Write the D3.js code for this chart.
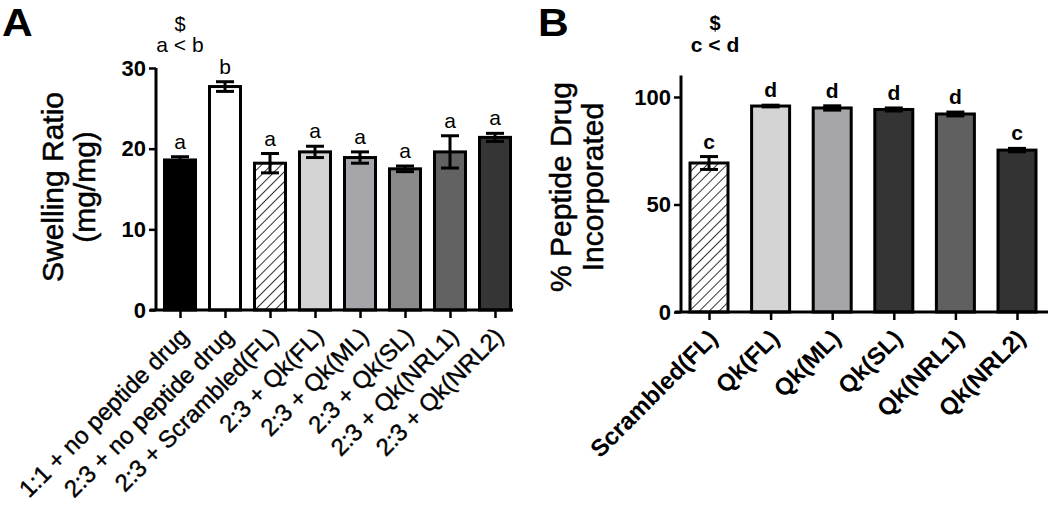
<!DOCTYPE html>
<html><head><meta charset="utf-8">
<script src="https://cdn.jsdelivr.net/npm/d3@7"></script>
<style>
body{margin:0;background:#fff;}
text{font-family:"Liberation Sans",Arial,sans-serif;fill:#000;}
</style></head>
<body>
<svg id="chart" width="1050" height="506"></svg>
<script>
// ---- Panel A data ----
const catsA = ["1:1 + no peptide drug","2:3 + no peptide drug","2:3 + Scrambled(FL)","2:3 + Qk(FL)","2:3 + Qk(ML)","2:3 + Qk(SL)","2:3 + Qk(NRL1)","2:3 + Qk(NRL2)"];
const meansA = [18.6, 27.7, 18.2, 19.6, 18.9, 17.5, 19.6, 21.4];
const errsA = [0.4, 0.6, 1.2, 0.7, 0.7, 0.35, 2.0, 0.5];
const lettersA = ["a","b","a","a","a","a","a","a"];
const fillsA = ["#000000","#ffffff","hatch","#d4d4d4","#a6a6aa","#8a8a8a","#626262","#353535"];
const ticksA = [0,10,20,30];
// ---- Panel B data ----
const catsB = ["Scrambled(FL)","Qk(FL)","Qk(ML)","Qk(SL)","Qk(NRL1)","Qk(NRL2)"];
const meansB = [69.3, 95.8, 94.9, 94.2, 92.1, 75.3];
const errsB = [3.0, 0.4, 1.0, 0.7, 0.9, 0.8];
const lettersB = ["c","d","d","d","d","c"];
const fillsB = ["hatch","#d4d4d4","#a6a6aa","#343434","#606060","#333333"];
const ticksB = [0,50,100];

const svg = d3.select("#chart");
const defs = svg.append("defs");
const pat = defs.append("pattern").attr("id","hatch").attr("patternUnits","userSpaceOnUse")
  .attr("width",7).attr("height",7).attr("patternTransform","rotate(45)");
pat.append("rect").attr("width",7).attr("height",7).attr("fill","#fff");
pat.append("line").attr("x1",0).attr("y1",0).attr("x2",0).attr("y2",7).attr("stroke","#000").attr("stroke-width",1.6);

function panel(cfg){
  const g = svg.append("g");
  const y = d3.scaleLinear().domain(cfg.ydom).range(cfg.yrange);
  const x = d3.scalePoint().domain(cfg.cats).range(cfg.xrange).padding(0.5);
  // bars
  cfg.cats.forEach((c,i)=>{
    const cx = x(c), m = cfg.means[i], e = cfg.errs[i];
    g.append("rect").attr("x",cx-cfg.bw/2).attr("y",y(m)).attr("width",cfg.bw).attr("height",y(0)-y(m))
      .attr("fill",cfg.fills[i]==="hatch"?"url(#hatch)":cfg.fills[i]).attr("stroke","#000").attr("stroke-width",3);
    const eg = g.append("g").attr("stroke","#000").attr("stroke-width",3);
    eg.append("line").attr("x1",cx).attr("x2",cx).attr("y1",y(m-e)).attr("y2",y(m+e));
    eg.append("line").attr("x1",cx-cfg.cap/2).attr("x2",cx+cfg.cap/2).attr("y1",y(m+e)).attr("y2",y(m+e));
    eg.append("line").attr("x1",cx-cfg.cap/2).attr("x2",cx+cfg.cap/2).attr("y1",y(m-e)).attr("y2",y(m-e));
    g.append("text").attr("x",cx).attr("y",y(m+e)-8).attr("text-anchor","middle")
      .attr("font-size",21).attr("font-weight",cfg.bold?"bold":"normal").text(cfg.letters[i]);
  });
  // y axis
  const ya = g.append("g").attr("transform",`translate(${cfg.xaxis0},0)`)
    .call(d3.axisLeft(y).tickValues(cfg.ticks).tickSize(7).tickPadding(3).tickFormat(d3.format("d")));
  ya.select(".domain").remove();
  ya.append("line").attr("x1",0).attr("x2",0).attr("y1",y(0)).attr("y2",y(cfg.ytop)).attr("stroke","#000").attr("stroke-width",3);
  ya.selectAll(".tick line").attr("stroke","#000").attr("stroke-width",2.5);
  ya.selectAll(".tick text").attr("font-size",22).attr("font-weight","bold").attr("fill","#000")
    .style("font-family","'Liberation Sans',Arial,sans-serif");
  // x axis
  const xa = g.append("g").attr("transform",`translate(0,${y(0)})`)
    .call(d3.axisBottom(x).tickSize(8).tickFormat(""));
  xa.select(".domain").remove();
  xa.append("line").attr("x1",cfg.xaxis0-6).attr("x2",cfg.xaxis1).attr("y1",0).attr("y2",0).attr("stroke","#000").attr("stroke-width",3);
  xa.selectAll(".tick line").attr("stroke","#000").attr("stroke-width",2.5);
  cfg.cats.forEach(c=>{
    g.append("text").attr("transform",`translate(${x(c)+cfg.lx},${y(0)+cfg.ly}) rotate(-45)`)
      .attr("text-anchor","end").attr("dy","0.35em").attr("font-size",24)
      .attr("font-weight",cfg.bold?"bold":"normal")
      .attr("stroke",cfg.bold?"none":"#000").attr("stroke-width",cfg.bold?0:0.4).text(c);
  });
  // y title
  cfg.ytitle.forEach((t,k)=>{
    g.append("text").attr("transform",`translate(${cfg.ytx[k]},${cfg.yty}) rotate(-90)`)
      .attr("text-anchor","middle").attr("dy","0.35em").attr("font-size",30)
      .attr("stroke","#000").attr("stroke-width",0.5).text(t);
  });
  // annotation
  g.append("text").attr("x",cfg.annX).attr("y",cfg.annY[0]).attr("text-anchor","middle").attr("font-size",20)
    .attr("font-weight",cfg.bold?"bold":"normal").text("$");
  g.append("text").attr("x",cfg.annX).attr("y",cfg.annY[1]).attr("text-anchor","middle").attr("font-size",21)
    .attr("font-weight",cfg.bold?"bold":"normal").text(cfg.ann);
  g.append("text").attr("transform",`translate(${cfg.plx},36) scale(1.12,1)`).attr("font-size",38).attr("font-weight","bold").text(cfg.pl);
}

panel({cats:catsA,means:meansA,errs:errsA,letters:lettersA,fills:fillsA,ticks:ticksA,
  ydom:[0,30],yrange:[310,68],ytop:30,xrange:[157.5,517.5],xaxis0:156,xaxis1:513,bw:31,cap:18,
  bold:false,lx:4,ly:22,ytitle:["Swelling Ratio","(mg/mg)"],ytx:[52,84],yty:187,
  annX:180,annY:[31,52],ann:"a < b",pl:"A",plx:2});
panel({cats:catsB,means:meansB,errs:errsB,letters:lettersB,fills:fillsB,ticks:ticksB,
  ydom:[0,110],yrange:[312,75.5],ytop:110,xrange:[678.2,1047.8],xaxis0:681,xaxis1:1048,bw:38,cap:18,
  bold:true,lx:4,ly:22,ytitle:["% Peptide Drug","Incorporated"],ytx:[560,592],yty:187,
  annX:715,annY:[30,52],ann:"c < d",pl:"B",plx:538});
</script>
</body></html>
